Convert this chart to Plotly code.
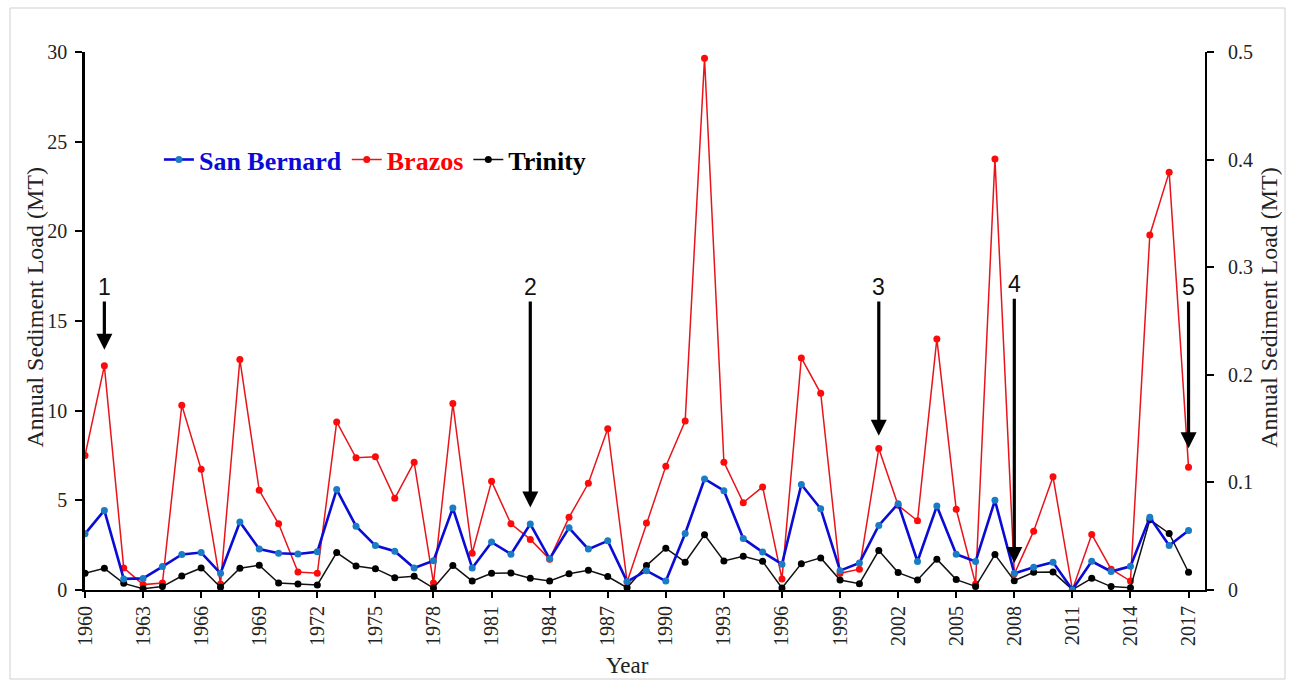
import plotly.graph_objects as go

years = list(range(1960, 2018))

brazos = [7.5, 12.5, 1.23, 0.3, 0.39, 10.3, 6.73, 0.34, 12.85, 5.56,
          3.69, 1.0, 0.93, 9.37, 7.37, 7.43, 5.11, 7.13, 0.39, 10.4,
          2.05, 6.06, 3.69, 2.82, 1.72, 4.05, 5.95, 8.99, 0.45, 3.73,
          6.9, 9.42, 29.65, 7.13, 4.87, 5.75, 0.62, 12.94, 10.97, 0.93,
          1.16, 7.89, 4.72, 3.86, 14.0, 4.5, 0.34, 24.04, 0.9, 3.28,
          6.31, 0.02, 3.1, 1.16, 0.5, 19.8, 23.3, 6.85]

# San Bernard plotted on the secondary axis (0-0.5 MT)
san_bernard = [0.0522, 0.0740, 0.0103, 0.0108, 0.0218, 0.0330, 0.0348, 0.0155, 0.0632, 0.0380,
               0.0342, 0.0335, 0.0355, 0.0933, 0.0593, 0.0413, 0.0360, 0.0205, 0.0273, 0.0762,
               0.0205, 0.0445, 0.0333, 0.0613, 0.0290, 0.0578, 0.0380, 0.0457, 0.0078, 0.0180,
               0.0083, 0.0525, 0.1032, 0.0923, 0.0478, 0.0352, 0.0240, 0.0980, 0.0755, 0.0180,
               0.0252, 0.0600, 0.0802, 0.0265, 0.0780, 0.0333, 0.0265, 0.0833, 0.0155, 0.0212,
               0.0258, 0.0003, 0.0267, 0.0172, 0.0220, 0.0675, 0.0413, 0.0553]

trinity = [0.93, 1.21, 0.37, 0.07, 0.19, 0.78, 1.23, 0.15, 1.21, 1.38,
           0.39, 0.34, 0.28, 2.09, 1.34, 1.19, 0.69, 0.76, 0.11, 1.36,
           0.5, 0.93, 0.95, 0.65, 0.5, 0.91, 1.1, 0.75, 0.13, 1.36,
           2.33, 1.55, 3.08, 1.62, 1.88, 1.6, 0.11, 1.47, 1.79, 0.56,
           0.35, 2.2, 0.97, 0.56, 1.72, 0.58, 0.2, 1.98, 0.52, 0.99,
           1.0, 0.02, 0.65, 0.19, 0.13, 3.92, 3.15, 0.99]

event_years = [1961, 1983, 2001, 2008, 2017]
event_labels = ["1", "2", "3", "4", "5"]
event_tips = [13.4, 4.6, 8.6, 1.5, 7.9]
event_tails = [16.9, 16.9, 16.9, 17.05, 16.9]

xticks = list(range(1960, 2018, 3))

SERIF = "Liberation Serif, Times New Roman, serif"

fig = go.Figure()
fig.add_trace(go.Scatter(
    x=years, y=san_bernard, yaxis="y2", mode="lines+markers",
    name="<b><span style='color:#0b0bd6'>San Bernard</span></b>",
    line=dict(color="#0b0bd6", width=2.6),
    marker=dict(color="#1a7cc4", size=7)))
fig.add_trace(go.Scatter(
    x=years, y=brazos, mode="lines+markers",
    name="<b><span style='color:#ff0000'>Brazos</span></b>",
    line=dict(color="#e8141b", width=1.5),
    marker=dict(color="#ff0a0a", size=7)))
fig.add_trace(go.Scatter(
    x=years, y=trinity, mode="lines+markers",
    name="<b><span style='color:#000000'>Trinity</span></b>",
    line=dict(color="#111111", width=1.5),
    marker=dict(color="#000000", size=7)))

annotations = []
for yr, lab, tip, tail in zip(event_years, event_labels, event_tips, event_tails):
    annotations.append(dict(
        x=yr, y=tip, ax=yr, ay=tail, xref="x", yref="y", axref="x", ayref="y",
        text=lab, showarrow=True, arrowhead=2, arrowsize=1, arrowwidth=3.2,
        arrowcolor="#000000", standoff=0, startstandoff=0,
        font=dict(family="Liberation Sans, Arial, sans-serif", size=23, color="#111111")))

annotations += [
    dict(text="Year", x=0.484, y=-0.14, xref="paper", yref="paper", showarrow=False,
         xanchor="center", yanchor="middle",
         font=dict(family=SERIF, size=23, color="#222222")),
    dict(text="Annual Sediment Load (MT)", x=-0.0446, y=0.525, xref="paper", yref="paper",
         xanchor="center", yanchor="middle",
         showarrow=False, textangle=-90, font=dict(family=SERIF, size=24, color="#222222")),
    dict(text="Annual Sediment Load (MT)", x=1.0565, y=0.525, xref="paper", yref="paper",
         xanchor="center", yanchor="middle",
         showarrow=False, textangle=-90, font=dict(family=SERIF, size=24, color="#222222")),
]

fig.update_layout(
    width=1295, height=680,
    margin=dict(l=85, r=90, t=52, b=90, autoexpand=False),
    paper_bgcolor="white", plot_bgcolor="white",
    showlegend=True,
    legend=dict(orientation="h", x=0.066, y=0.80, xanchor="left", yanchor="middle",
                bgcolor="rgba(0,0,0,0)", font=dict(family=SERIF, size=26),
                itemwidth=30, tracegroupgap=0, traceorder="normal"),
    xaxis=dict(range=[1960, 2017.85], tickmode="array", tickvals=xticks,
               ticktext=[str(v) for v in xticks], tickangle=-90,
               showgrid=False, zeroline=False, showline=True, linecolor="#000000",
               linewidth=2, ticks="outside", ticklen=6, tickwidth=1.5, tickcolor="#000000",
               tickfont=dict(family=SERIF, size=20, color="#222222")),
    yaxis=dict(range=[0, 30], dtick=5, tick0=0, showgrid=False, zeroline=False,
               showline=True, linecolor="#000000", linewidth=2.5, ticks="outside",
               ticklen=7, tickwidth=1.5, tickcolor="#000000", ticklabelstandoff=4,
               tickfont=dict(family=SERIF, size=20, color="#222222")),
    yaxis2=dict(range=[0, 0.5], overlaying="y", side="right", tickmode="array",
                tickvals=[0, 0.1, 0.2, 0.3, 0.4, 0.5],
                ticktext=["0", "0.1", "0.2", "0.3", "0.4", "0.5"],
                showgrid=False, zeroline=False, showline=True, linecolor="#000000",
                linewidth=2, ticks="outside", ticklen=7, tickwidth=1.5,
                tickcolor="#000000", ticklabelstandoff=10,
                tickfont=dict(family=SERIF, size=20, color="#222222")),
    annotations=annotations,
    shapes=[dict(type="rect", xref="paper", yref="paper",
                 x0=(10 - 85) / 1120, x1=(1285 - 85) / 1120,
                 y0=(590 - 679) / 538, y1=(590 - 8) / 538,
                 line=dict(color="#cfcfcf", width=1), layer="below")],
)

fig.write_html("out.html")
